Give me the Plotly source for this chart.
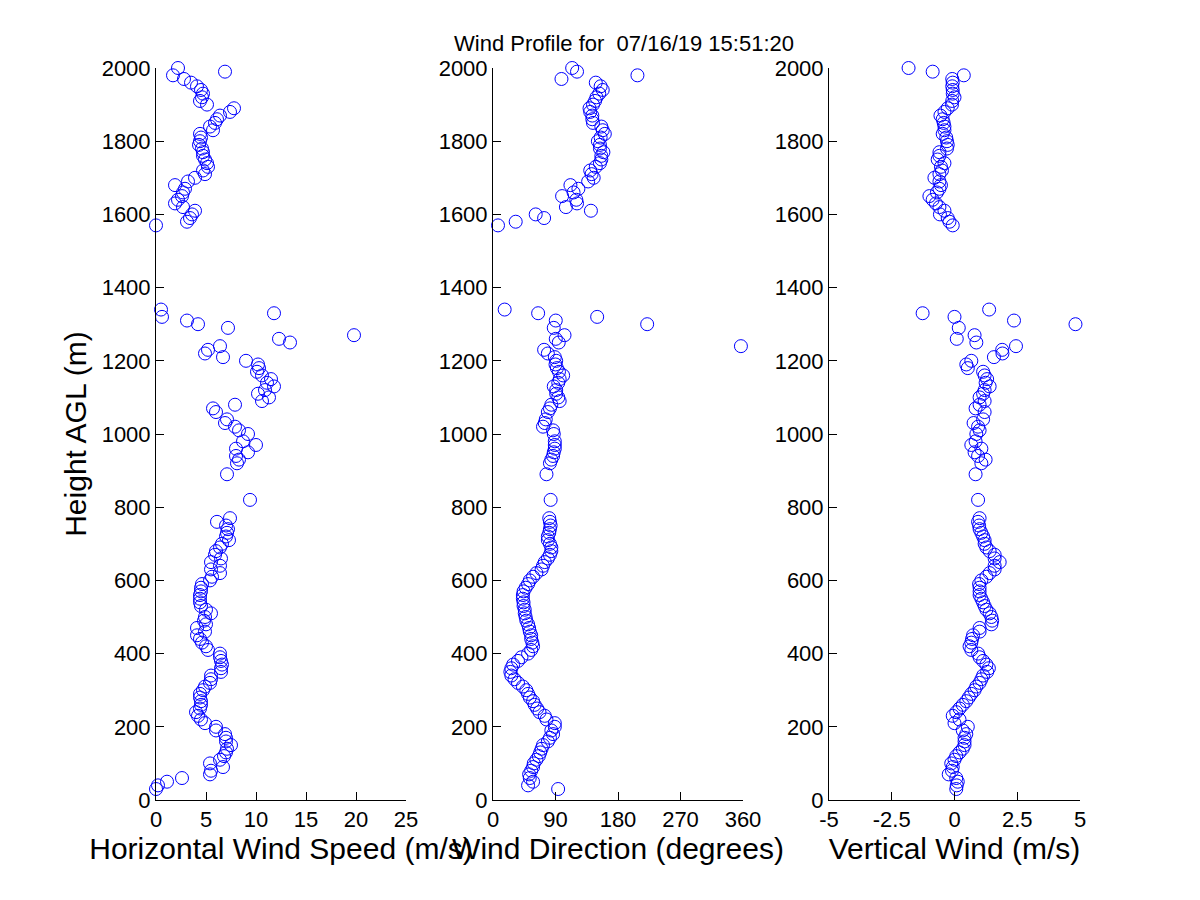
import plotly.graph_objects as go

# lidar range gates (m AGL)
heights = [30, 40, 50, 60, 70, 80, 90, 100, 110, 120,
           130, 140, 150, 160, 170, 180, 190, 200, 210, 220,
           230, 240, 250, 260, 270, 280, 290, 300, 310, 320,
           330, 340, 350, 360, 370, 380, 390, 400, 410, 420,
           430, 440, 450, 460, 470, 480, 490, 500, 510, 520,
           530, 540, 550, 560, 570, 580, 590, 600, 610, 620,
           630, 640, 650, 660, 670, 680, 690, 700, 710, 720,
           730, 740, 750, 760, 770, 820,
           890, 920, 930, 940, 950, 960, 970, 980,
           1000, 1010, 1020, 1030, 1040,
           1060, 1070, 1080, 1090, 1100, 1110, 1120, 1130, 1140, 1150, 1160,
           1170, 1180, 1190, 1200, 1210, 1220, 1230, 1240, 1250, 1260, 1270,
           1290, 1300, 1310, 1320, 1330, 1340,
           1570, 1580, 1590, 1600, 1610, 1620, 1630, 1640, 1650, 1660,
           1670, 1680, 1690, 1700, 1710, 1720, 1730, 1740, 1750, 1760,
           1770, 1780, 1790, 1800, 1810, 1820, 1830, 1840, 1850, 1860,
           1870, 1880, 1890, 1900, 1910, 1920, 1930, 1940, 1950, 1960,
           1970, 1980, 1990, 2000]

# horizontal wind speed (m/s)
speed = [0.0, 0.2, 1.1, 2.6, 5.4, 5.5, 6.7, 5.4, 6.4, 6.8,
         7.0, 7.1, 7.5, 7.0, 7.0, 6.9, 6.0, 6.0, 4.9, 4.5,
         4.2, 4.0, 4.4, 4.5, 4.5, 4.4, 4.4, 4.7, 4.9, 5.4,
         5.5, 5.5, 6.5, 6.5, 6.6, 6.5, 6.4, 6.4, 5.2, 5.0,
         4.6, 4.4, 4.1, 4.9, 4.1, 5.0, 4.8, 4.9, 5.5, 5.0,
         4.5, 4.4, 4.4, 4.4, 4.5, 4.5, 4.6, 5.4, 5.6, 6.4,
         5.5, 6.4, 5.5, 6.5, 5.9, 6.0, 6.4, 6.6, 7.3, 7.0,
         7.1, 7.2, 7.0, 6.1, 7.4, 9.4,
         7.1, 8.1, 8.3, 8.0, 9.2, 8.0, 10.0, 8.7,
         9.2, 8.3, 7.9, 6.9, 7.1,
         6.0, 5.7, 7.9, 10.6, 11.3, 10.2, 10.9, 11.8, 11.1, 11.5, 10.6,
         10.1, 10.3, 10.2, 9.0, 6.7, 4.9, 5.2, 6.4, 13.4, 12.3, 19.8,
         7.2, 4.2, 3.1, 0.6, 11.8, 0.5,
         0.0, 3.1, 3.4, 3.6, 3.9, 2.7, 1.9, 2.2, 2.6, 2.7,
         2.9, 1.9, 3.2, 3.9, 4.9, 4.7, 5.2, 5.1, 4.9, 4.7,
         4.7, 4.6, 4.3, 4.4, 4.5, 4.4, 5.7, 5.4, 5.9, 6.1,
         6.4, 7.4, 7.8, 5.1, 4.4, 4.6, 4.7, 4.5, 4.1, 3.5,
         2.8, 1.7, 6.9, 2.2]

# wind direction (degrees)
direction = [93.8, 50.5, 57.7, 52.9, 52, 55, 57.7, 58.7, 62.5, 66,
             68, 70, 72, 79, 82, 86.5, 84, 89, 89, 77,
             74.5, 67, 63.5, 60, 57.7, 53, 50.5, 48, 43, 36,
             31, 26.4, 25, 26.4, 29, 36, 41, 50.5, 55, 57.7,
             56.7, 55, 55, 53, 52, 50.5, 48, 47, 45.7, 45.7,
             44, 44, 43, 43, 44, 47, 50.5, 53, 57.7, 62.5,
             70, 72, 74.5, 79, 82, 84, 84, 82, 79, 79,
             81, 82, 83, 82, 81, 83,
             77, 82, 84, 86.5, 87.5, 89, 89, 89,
             87.5, 86.5, 72, 74.5, 76,
             79, 82, 84, 96, 94, 91, 91, 87.5, 94, 96, 101,
             95, 92, 90, 91, 89, 79, 73.6, 357, 94.7, 90.4, 103,
             87.5, 222, 90.4, 150, 65, 16.8,
             7.2, 32.7, 73.6, 61.5, 141, 105, 121, 120, 99.5, 116,
             123, 111.5, 137, 145, 142, 140, 148, 154, 156, 156,
             159, 154, 154, 151, 155, 161, 158, 156, 144, 143,
             143, 140, 139, 144, 147, 149, 153, 158, 155, 148,
             98.6, 208, 121, 114]

# vertical wind (m/s)
vertical = [0.07, 0.09, 0.13, 0.07, -0.23, -0.1, -0.07, -0.13, 0.0, 0.07,
            0.2, 0.33, 0.4, 0.4, 0.4, 0.47, 0.33, 0.53, 0.0, 0.2,
            -0.07, 0.07, 0.2, 0.33, 0.47, 0.57, 0.67, 0.8, 0.87, 1.0,
            1.07, 1.14, 1.3, 1.37, 1.27, 1.14, 1.0, 0.94, 0.67, 0.6,
            0.67, 0.7, 0.74, 1.0, 1.0, 1.47, 1.5, 1.47, 1.4, 1.27,
            1.2, 1.14, 1.07, 1.0, 1.0, 1.0, 0.98, 1.07, 1.27, 1.4,
            1.6, 1.6, 1.8, 1.6, 1.6, 1.4, 1.27, 1.2, 1.2, 1.14,
            1.07, 1.0, 0.98, 0.94, 1.0, 0.94,
            0.84, 1.07, 1.24, 0.94, 0.8, 1.07, 0.67, 0.84,
            0.87, 1.0, 0.94, 0.76, 1.14,
            1.2, 0.84, 1.0, 1.2, 1.0, 1.14, 1.2, 1.4, 1.24, 1.3, 1.2,
            1.14, 0.53, 0.47, 0.67, 1.57, 1.91, 1.9, 2.45, 0.87, 0.09, 0.8,
            0.17, 4.82, 2.37, 0.0, -1.27, 1.38,
            -0.07, -0.2, -0.27, -0.58, -0.4, -0.6, -0.74, -0.87, -1.0, -0.7,
            -0.6, -0.54, -0.6, -0.8, -0.6, -0.5, -0.54, -0.4, -0.67, -0.6,
            -0.6, -0.3, -0.27, -0.3, -0.33, -0.47, -0.4, -0.4, -0.43, -0.47,
            -0.56, -0.4, -0.27, -0.1, -0.09, 0.0, -0.07, -0.07, -0.09, -0.07,
            -0.09, 0.37, -0.87, -1.83]

height_ticks = [0, 200, 400, 600, 800, 1000, 1200, 1400, 1600, 1800, 2000]
speed_ticks = [0, 5, 10, 15, 20, 25]
dir_ticks = [0, 90, 180, 270, 360]
vert_ticks = [-5, -2.5, 0, 2.5, 5]
vert_labels = ["-5", "-2.5", "0", "2.5", "5"]

FONT = "Liberation Sans, Arial, sans-serif"
W, H = 1200, 900
OFF = 8  # page body margin pushes the figure by ~8px


def xdom(left, right):
    return [(left - OFF) / W, (right - OFF) / W]


Y_DOM = [1 - (800 - OFF) / H, 1 - (68 - OFF) / H]

fig = go.Figure()

panels = [(speed, "x", "y"), (direction, "x2", "y2"), (vertical, "x3", "y3")]
for vals, xa, ya in panels:
    fig.add_trace(go.Scatter(
        x=vals, y=heights, mode="markers", xaxis=xa, yaxis=ya,
        marker=dict(symbol="circle-open", size=13, color="#0000ff",
                    line=dict(width=1, color="#0000ff")),
        cliponaxis=False, showlegend=False, hoverinfo="x+y"))

# matlab-ish axes: no box, inward ticks
ax = dict(showline=True, linecolor="black", linewidth=1, ticks="inside",
          ticklen=8, tickcolor="black", showgrid=False, zeroline=False,
          mirror=False, automargin=False,
          tickfont=dict(family=FONT, size=22, color="black"))
title_font = dict(family=FONT, size=30, color="black")

yax = dict(ax, range=[0, 2000], domain=Y_DOM, tickvals=height_ticks,
           ticktext=[str(t) for t in height_ticks])

fig.update_layout(
    width=W, height=H, template="none",
    paper_bgcolor="white", plot_bgcolor="white",
    margin=dict(l=0, r=0, t=0, b=0),
    title=dict(text="Wind Profile for \u00a007/16/19 15:51:20",
               x=(624 - OFF) / W, xanchor="center", y=1 - (43 - OFF) / H, yanchor="middle",
               font=dict(family=FONT, size=22, color="black")),
    xaxis=dict(ax, domain=xdom(156, 406), anchor="y", range=[0, 25],
               tickvals=speed_ticks, ticktext=[str(t) for t in speed_ticks],
               title=dict(text="Horizontal Wind Speed (m/s)", font=title_font, standoff=2)),
    xaxis2=dict(ax, domain=xdom(493, 743), anchor="y2", range=[0, 360],
                tickvals=dir_ticks, ticktext=[str(t) for t in dir_ticks],
                title=dict(text="Wind Direction (degrees)", font=title_font, standoff=2)),
    xaxis3=dict(ax, domain=xdom(829, 1080), anchor="y3", range=[-5, 5],
                tickvals=vert_ticks, ticktext=vert_labels,
                title=dict(text="Vertical Wind (m/s)", font=title_font, standoff=2)),
    yaxis=dict(yax, anchor="x",
               title=dict(text="Height AGL (m)", font=title_font, standoff=6)),
    yaxis2=dict(yax, anchor="x2"),
    yaxis3=dict(yax, anchor="x3"),
)

fig.write_html("out.html")
